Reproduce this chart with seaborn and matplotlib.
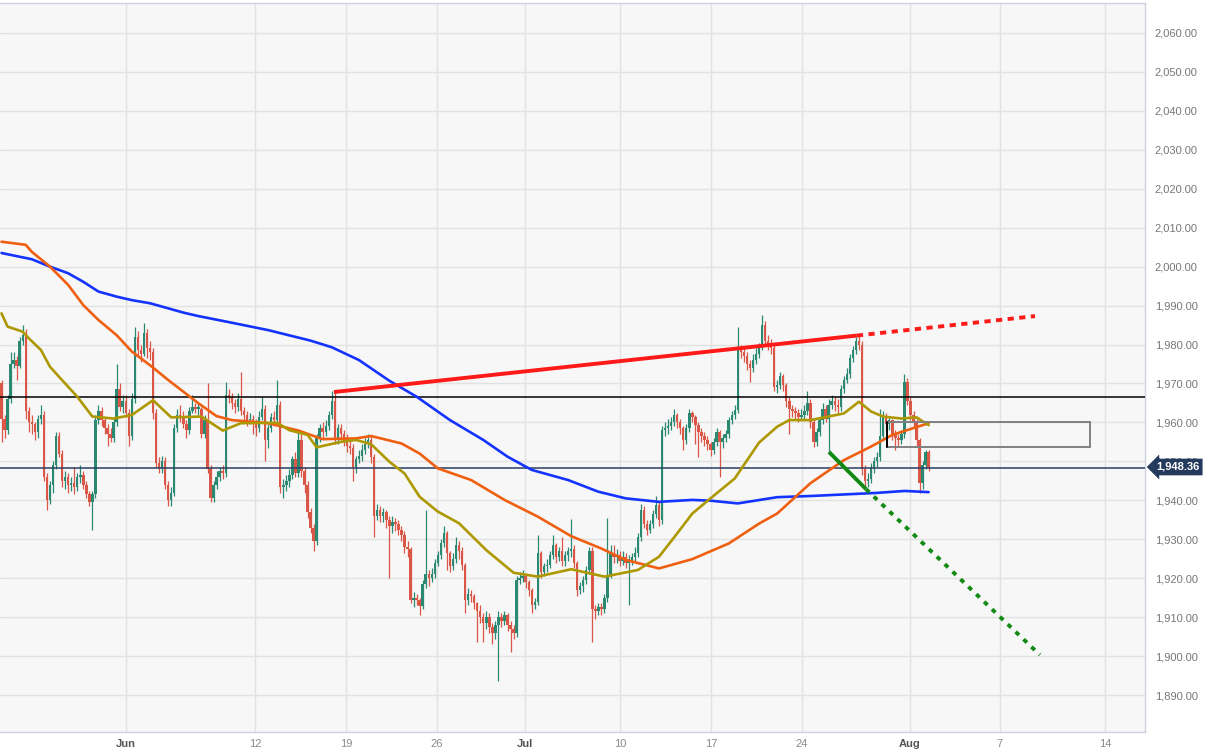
import numpy as np
import pandas as pd
import matplotlib
matplotlib.use("Agg")
import matplotlib.pyplot as plt
import seaborn as sns
from matplotlib.patches import Rectangle
from matplotlib.ticker import FuncFormatter

# 1. Datos (velas de 4 horas, oro)
primer_open = 1970.0

cierres = [
    1961, 1958, 1966, 1975, 1976, 1974.5, 1981, 1982.5, 1963, 1960,
    1959.5, 1957.5, 1961, 1962, 1946, 1940, 1944, 1949, 1956.5, 1952,
    1945, 1946, 1944, 1944.5, 1943.5, 1946, 1946.5, 1944, 1941.5, 1939.5,
    1941.5, 1960.5, 1963, 1960.5, 1958.5, 1957, 1956, 1960, 1968.5, 1964,
    1965.5, 1962.5, 1956.5, 1966, 1982, 1978.5, 1977.5, 1983, 1979, 1978,
    1962.5, 1949.5, 1948, 1950, 1944, 1940, 1942, 1958.5, 1962, 1961.5,
    1959.5, 1958, 1963, 1964, 1963.5, 1963.5, 1957, 1960.5, 1948, 1940.5,
    1944, 1946, 1947.5, 1947, 1967, 1966.5, 1965, 1964, 1966, 1963,
    1962, 1960.5, 1961, 1959.5, 1958.5, 1961.5, 1963.5, 1955.5, 1958.5, 1961.5,
    1960.5, 1964.5, 1943.5, 1944, 1945, 1946.5, 1950.5, 1947, 1955.5, 1947.5,
    1944, 1937, 1933, 1929.5, 1956, 1958.5, 1957.5, 1959, 1962, 1965.5,
    1956, 1958.5, 1957, 1955, 1954, 1953.5, 1948.5, 1950.5, 1951.5, 1953,
    1954.5, 1955.5, 1951, 1936, 1937.5, 1936, 1937, 1935, 1933.5, 1934.5,
    1934, 1932.5, 1931, 1928, 1927.5, 1914.5, 1915, 1914.5, 1912.8, 1918.5,
    1921, 1920, 1921, 1924, 1926, 1929, 1931.5, 1926.5, 1923, 1925,
    1928.5, 1927, 1923.5, 1914.5, 1916, 1915.5, 1913.5, 1911.5, 1910, 1908.5,
    1910, 1907.5, 1905.8, 1908, 1910, 1909, 1910.5, 1908, 1907, 1906,
    1919.5, 1920, 1920.5, 1919, 1917, 1913, 1914, 1926.5, 1921.5, 1923,
    1923.5, 1926, 1928.5, 1925.5, 1927, 1924.5, 1926, 1927, 1927.5, 1923.8,
    1917, 1918, 1919.5, 1922, 1927, 1912, 1911.5, 1912.5, 1912, 1915,
    1920.5, 1926.5, 1925.5, 1926, 1924.5, 1925.5, 1924, 1924.5, 1925.5, 1926.5,
    1930.5, 1937.5, 1934, 1932.4, 1934, 1936.5, 1938.8, 1935, 1958, 1958.5,
    1959, 1960, 1961.8, 1960, 1958.5, 1955.5, 1958.5, 1962.5, 1961.5, 1959.3,
    1957.5, 1956.5, 1955.5, 1954.5, 1953, 1955, 1957.5, 1955, 1956, 1957,
    1960.5, 1962, 1963.2, 1978.5, 1978, 1977, 1975, 1974, 1976, 1977.5,
    1979, 1985, 1981, 1980, 1979, 1969, 1969.5, 1972, 1969.5, 1965.5,
    1963.5, 1963, 1962.5, 1961.5, 1962, 1963, 1965, 1960, 1955, 1957.5,
    1960.5, 1963.5, 1961, 1964.5, 1965.5, 1964.5, 1964, 1968.5, 1971, 1972.5,
    1976.5, 1978.5, 1981, 1980, 1948, 1945, 1945.5, 1948.5, 1950, 1951,
    1956.5, 1961.5, 1959.5, 1960.5, 1957, 1956, 1955.5, 1957, 1970.5, 1965.5,
    1962, 1960, 1955.5, 1944.5, 1949, 1952.5, 1948.36,
]

maximos = [
    1971, 1962, 1967, 1978, 1978, 1977, 1982, 1985, 1984, 1964,
    1962, 1960, 1962, 1964.5, 1963, 1947, 1945, 1950, 1957.5, 1957.5,
    1953, 1947.5, 1947, 1946, 1948.5, 1947, 1949, 1947.5, 1945, 1942.5,
    1942.5, 1962, 1964.5, 1964, 1961.5, 1959.5, 1958.5, 1961.5, 1975, 1970,
    1967, 1967, 1963.5, 1967.5, 1984.5, 1983.5, 1980, 1985.5, 1984, 1981,
    1979, 1963.5, 1951, 1951.5, 1951, 1945, 1943.5, 1959.5, 1963.5, 1964.5,
    1963, 1960.5, 1964, 1967, 1965, 1965, 1964, 1962, 1970, 1949,
    1945, 1947.5, 1948.5, 1949, 1970.5, 1968.5, 1967.5, 1966, 1967.5, 1973,
    1964, 1963, 1962.5, 1962, 1961, 1963, 1966.5, 1964.5, 1959.5, 1962.5,
    1963, 1971, 1965.5, 1945.5, 1946.5, 1948, 1951.5, 1952.5, 1958, 1957,
    1948.5, 1945, 1938, 1934, 1957, 1959.5, 1960, 1960.5, 1963, 1968,
    1967.5, 1959.5, 1959.5, 1958, 1957, 1955.5, 1954.5, 1951.5, 1953, 1954.5,
    1956, 1957, 1956.5, 1952, 1939, 1938.5, 1938, 1937.5, 1936, 1936,
    1935.5, 1935, 1933.5, 1932, 1929.5, 1928, 1916.5, 1916, 1915, 1919.5,
    1937.5, 1922, 1922.5, 1925, 1927, 1930, 1933.5, 1932, 1927, 1926.5,
    1930.5, 1929.5, 1928, 1924, 1917.5, 1917, 1916, 1914, 1913, 1911,
    1911.5, 1911, 1908.5, 1909, 1911.5, 1911, 1911.5, 1911, 1909, 1908,
    1920.5, 1921.5, 1922, 1921, 1919.5, 1917.5, 1915, 1931, 1927, 1924,
    1925, 1927, 1931, 1929, 1928, 1930.5, 1927, 1928, 1935.3, 1928.5,
    1924.5, 1919, 1920.5, 1923, 1928, 1928, 1913, 1913.5, 1913.5, 1916,
    1935.5, 1928.5, 1928.5, 1927.5, 1927, 1927, 1926.5, 1926, 1926.5, 1928,
    1931.5, 1939, 1938.5, 1935, 1935, 1937.5, 1941, 1939.5, 1959, 1960,
    1961, 1961.5, 1963.5, 1962.5, 1961, 1959, 1959.5, 1963.5, 1963, 1962,
    1960, 1958.5, 1957.5, 1956.5, 1955, 1956, 1958.5, 1958, 1957, 1958,
    1961.5, 1963, 1964.5, 1984.5, 1980, 1979.5, 1978, 1976, 1977.5, 1979,
    1980.5, 1987.5, 1986, 1982.5, 1981.5, 1980, 1971, 1973, 1972.5, 1970,
    1966.5, 1964.5, 1964, 1963.5, 1963.5, 1964.5, 1968, 1966, 1961, 1958.5,
    1961.5, 1965, 1964.5, 1966, 1967, 1966.5, 1966, 1969.5, 1972, 1974,
    1977.5, 1979.5, 1982, 1982.5, 1981, 1949, 1947, 1949.5, 1951, 1952.5,
    1963.5, 1963, 1962.5, 1961.5, 1961, 1958, 1957, 1958, 1972.5, 1971.5,
    1966.5, 1963, 1961, 1956, 1950, 1953, 1953,
]

minimos = [
    1955, 1956, 1957, 1965, 1974, 1971, 1974, 1980, 1961, 1957.5,
    1957, 1955.5, 1956, 1959.5, 1945, 1937.5, 1939, 1942, 1948, 1951,
    1943.5, 1943, 1942, 1942.5, 1941.5, 1942.5, 1944.5, 1943, 1940.5, 1938.5,
    1932.5, 1940.5, 1959.5, 1959, 1957, 1954, 1955, 1955, 1959, 1963,
    1962.5, 1961.5, 1954, 1955.5, 1965, 1977, 1975.5, 1977, 1976.5, 1976,
    1961, 1948.5, 1947, 1947, 1943, 1938.5, 1938.5, 1941, 1957.5, 1960,
    1958.5, 1956, 1957, 1962.5, 1962.5, 1962, 1956, 1956, 1947, 1939.5,
    1939.5, 1943, 1945, 1945.5, 1946, 1965, 1963.5, 1962.5, 1963, 1962,
    1960.5, 1959, 1959.5, 1957, 1956.5, 1957.5, 1960.5, 1950, 1953.5, 1957.5,
    1959, 1959.5, 1942, 1940.5, 1942.5, 1943.5, 1945.5, 1946, 1946, 1946,
    1942, 1935.5, 1931.5, 1927, 1928.5, 1955, 1956, 1956.5, 1958, 1961,
    1954.5, 1954.5, 1955.5, 1954, 1952.5, 1952, 1945, 1947, 1949.5, 1950,
    1952, 1953.5, 1949.5, 1930.5, 1935, 1934.5, 1934.5, 1933, 1920, 1931.5,
    1932, 1931, 1929.5, 1926.5, 1925.5, 1913.5, 1912.5, 1913, 1910.5, 1912,
    1917.5, 1918, 1919, 1920, 1923, 1925, 1928, 1922, 1921.5, 1922,
    1924, 1925, 1922, 1911, 1913, 1914, 1912, 1903.5, 1908.5, 1903.5,
    1907, 1906, 1903, 1904.5, 1893.5, 1907.5, 1908, 1906.5, 1901, 1904.5,
    1905, 1918.5, 1919, 1917.5, 1915.5, 1911, 1912, 1913, 1920, 1920.5,
    1921.5, 1922.5, 1925, 1924, 1924.5, 1923, 1923, 1924.5, 1925.5, 1922.5,
    1915.5, 1916, 1916.5, 1918.5, 1921, 1903.5, 1909.5, 1910.5, 1910.5, 1911,
    1914, 1920, 1924, 1924, 1923, 1923.5, 1922.5, 1913, 1923.5, 1924.5,
    1925.5, 1929.5, 1933, 1931, 1931.5, 1933, 1935.5, 1933.5, 1934, 1956.5,
    1957, 1958, 1959, 1958.5, 1957, 1953, 1954.5, 1957.5, 1960, 1954.5,
    1951, 1955, 1954, 1953, 1951.5, 1952, 1954, 1946, 1953.5, 1955,
    1956, 1959.5, 1961, 1962.5, 1976.5, 1975.5, 1973.5, 1970.5, 1973, 1975,
    1976.5, 1978.5, 1980, 1978.5, 1977.5, 1968, 1967.5, 1968.5, 1968, 1964,
    1957, 1961.5, 1961, 1960, 1960.5, 1961, 1962, 1958.5, 1953.8, 1954,
    1956.5, 1959.5, 1960, 1952.5, 1963.5, 1963, 1962.5, 1963, 1967.5, 1970,
    1971.5, 1975.5, 1977.5, 1978.5, 1946.5, 1943.2, 1943.5, 1944.5, 1947, 1948.5,
    1950, 1955.5, 1958, 1958, 1955.5, 1953, 1954, 1954.5, 1956, 1964.5,
    1960.5, 1958.5, 1954, 1942, 1943, 1948, 1947.5,
]

# medias moviles (indice de vela -> precio), leidas a ojo
sma200_idx = [0, 10, 16, 22, 27, 32, 38, 43, 49, 55, 60, 65, 76, 88, 102, 109, 118, 128,
              137, 148, 159, 167, 175, 187, 197, 206, 217, 228, 234, 243, 256, 267, 278,
              289, 298, 306]
sma200 = [2003.5, 2001.9, 2000.0, 1998.3, 1996.1, 1993.6, 1992.3, 1991.4, 1990.6, 1989.3,
          1988.2, 1987.3, 1985.6, 1983.7, 1981.0, 1979.3, 1976.0, 1970.7, 1966.6, 1960.6,
          1955.5, 1951.2, 1947.8, 1945.2, 1942.2, 1940.5, 1939.6, 1940.1, 1939.9, 1939.2,
          1940.8, 1941.1, 1941.5, 1941.9, 1942.4, 1942.1]

sma100_idx = [0, 8, 10, 16, 22, 27, 32, 38, 43, 49, 55, 60, 65, 71, 76, 88, 98, 106, 117,
              122, 132, 138, 144, 155, 166, 177, 188, 198, 206, 217, 228, 240, 250, 256,
              267, 278, 287, 294, 306]
sma100 = [2006.4, 2005.6, 2003.8, 2000.0, 1995.3, 1990.1, 1986.3, 1982.4, 1978.2, 1974.7,
          1970.9, 1967.9, 1964.9, 1961.6, 1960.6, 1959.8, 1957.9, 1955.7, 1955.9, 1956.5,
          1954.6, 1952.0, 1948.2, 1945.2, 1940.1, 1935.8, 1930.8, 1927.6, 1924.7, 1922.5,
          1924.9, 1928.9, 1934.0, 1936.6, 1944.4, 1950.3, 1953.8, 1956.8, 1959.8]

sma50_idx = [0, 2, 7, 9, 13, 16, 19, 25, 30, 37, 43, 50, 56, 66, 73, 79, 91, 95, 101, 104,
             112, 117, 122, 128, 133, 138, 144, 151, 160, 169, 177, 188, 199, 210, 217, 223,
             228, 234, 242, 250, 256, 260, 267, 278, 283, 287, 291, 297, 302, 306]
sma50 = [1988.0, 1984.6, 1983.3, 1981.6, 1978.6, 1974.3, 1971.7, 1966.6, 1961.5, 1961.0,
         1961.9, 1965.7, 1961.3, 1961.5, 1957.9, 1959.8, 1959.9, 1958.0, 1956.8, 1953.6,
         1955.0, 1955.5, 1954.4, 1949.9, 1946.9, 1940.9, 1937.1, 1934.1, 1927.2, 1921.4,
         1920.4, 1922.3, 1920.4, 1922.1, 1925.5, 1931.5, 1936.6, 1940.5, 1945.6, 1954.8,
         1958.9, 1960.6, 1960.6, 1962.3, 1965.3, 1962.8, 1961.5, 1961.0, 1961.3, 1959.3]

# lineas de tendencia y zona
roja_x = [109.7, 282.3]
roja_y = [1967.8, 1982.3]
roja_punt_x = [282.3, 341.1]
roja_punt_y = [1982.3, 1987.3]
verde_x = [273.1, 285.3]
verde_y = [1952.4, 1942.9]
verde_punt_x = [285.3, 342.7]
verde_punt_y = [1942.9, 1900.3]
caja_x = [292.2, 359.2]
caja_y = [1953.8, 1960.0]

resistencia = 1966.5
precio_actual = 1948.36

# eje x: posicion (en velas) y texto de las fechas
fechas_pos = [41.1, 83.7, 113.7, 143.7, 172.8, 204.1, 234.2, 264.2, 299.8, 329.5, 364.2]
fechas_txt = ["Jun", "12", "19", "26", "Jul", "10", "17", "24", "Aug", "7", "14"]
precios_ticks = list(range(1890, 2061, 10))

VERDE = "#2b8871"
ROJO = "#da5646"

# 2. Estilo
sns.set_theme(style="whitegrid")
plt.rcParams["font.family"] = ["Liberation Sans", "DejaVu Sans"]

# 3. Tabla de velas
df = pd.DataFrame({"close": cierres, "high": maximos, "low": minimos})
df["open"] = [primer_open] + cierres[:-1]
df["idx"] = np.arange(len(df))
colores = np.where(df["close"] >= df["open"], VERDE, ROJO)

fig = plt.figure(figsize=(12.1, 7.56), dpi=100)
ax = fig.add_axes([0, 24 / 756, 1145 / 1210, 729 / 756])
ax.set_facecolor("#f7f7f7")

# mechas y cuerpos
ax.vlines(df["idx"], df["low"], df["high"], colors=colores, lw=0.9, zorder=2)
base = df[["open", "close"]].min(axis=1)
alto = (df["close"] - df["open"]).abs().clip(lower=0.35)
ax.bar(df["idx"], alto, bottom=base, width=0.8, color=colores, linewidth=0, zorder=3)

# medias moviles
sns.lineplot(x=sma200_idx, y=sma200, ax=ax, color="#1433ff", linewidth=1.9, zorder=5)
sns.lineplot(x=sma100_idx, y=sma100, ax=ax, color="#ef5f10", linewidth=1.9, zorder=5)
sns.lineplot(x=sma50_idx, y=sma50, ax=ax, color="#ad9800", linewidth=1.9, zorder=5)

# lineas horizontales
ax.axhline(resistencia, color="black", lw=1.1, zorder=4)
ax.axhline(precio_actual, color="#2a3f63", lw=1.1, zorder=4)

# tendencias
ax.plot(roja_x, roja_y, color="#ff1a1a", lw=2.8, solid_capstyle="butt", zorder=6)
ax.plot(roja_punt_x, roja_punt_y, color="#ff1a1a", lw=2.8, ls=(0, (1.6, 1.4)), zorder=6)
ax.plot(verde_x, verde_y, color="#138a13", lw=2.8, solid_capstyle="butt", zorder=6)
ax.plot(verde_punt_x, verde_punt_y, color="#138a13", lw=2.8, ls=(0, (1.2, 1.6)), zorder=6)

caja = Rectangle((caja_x[0], caja_y[0]), caja_x[1] - caja_x[0], caja_y[1] - caja_y[0],
                 fill=False, edgecolor="#808080", lw=1.4, zorder=6)
ax.add_patch(caja)
ax.plot([caja_x[0], caja_x[0]], caja_y, color="black", lw=1.4, zorder=7)

# ejes
ax.set_xlim(-0.5, 377.4)
ax.set_ylim(1880.5, 2067.7)
ax.yaxis.tick_right()
ax.set_yticks(precios_ticks)
ax.yaxis.set_major_formatter(FuncFormatter(lambda v, _: f"{v:,.2f}"))
ax.tick_params(axis="y", length=0, pad=7, labelsize=8, labelcolor="#777777")
ax.set_xticks(fechas_pos)
ax.set_xticklabels(fechas_txt)
ax.tick_params(axis="x", length=0, pad=5, labelsize=8)
for etiqueta in ax.get_xticklabels():
    etiqueta.set_family(["Liberation Sans Narrow", "Liberation Sans", "DejaVu Sans"])
    if etiqueta.get_text() in ("Jun", "Jul", "Aug"):
        etiqueta.set_color("#555555")
        etiqueta.set_fontweight("bold")
    else:
        etiqueta.set_color("#8a8a8a")

ax.grid(True, color="#e2e2e2", lw=1)
ax.set_axisbelow(True)
for lado in ["right", "bottom", "top"]:
    ax.spines[lado].set_color("#cdd2dc")
    ax.spines[lado].set_linewidth(1)
ax.spines["left"].set_visible(False)

# etiqueta del precio actual (tapa la etiqueta de 1,950.00 como en el original)
fig.text(1156 / 1210, 1 - 467 / 756, f"{precio_actual:,.2f}", color="white", fontsize=8,
         fontweight="bold", ha="left", va="center",
         bbox=dict(boxstyle="larrow,pad=0.3", fc="#243b5e", ec="none"))

fig.savefig("out.png", dpi=100)
